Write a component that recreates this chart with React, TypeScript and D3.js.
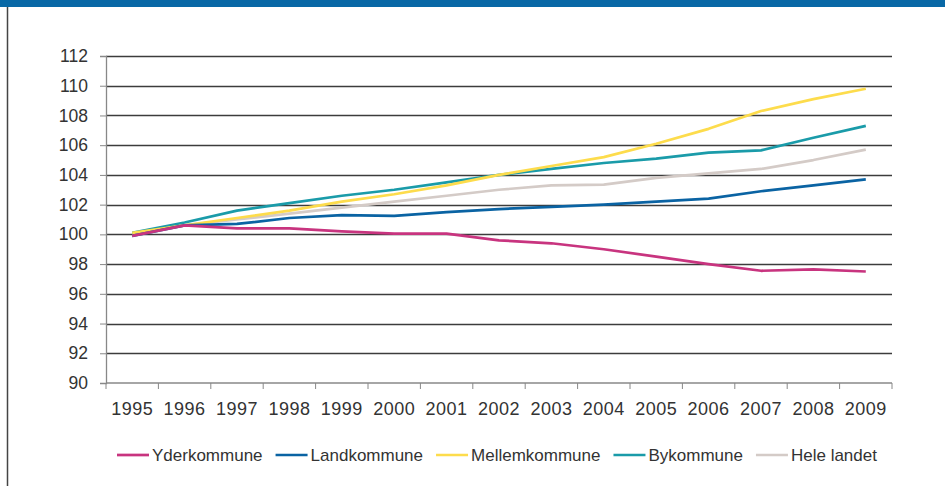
import React, { useEffect, useRef } from "react";
import * as d3 from "d3";

const years = ["1995", "1996", "1997", "1998", "1999", "2000", "2001", "2002", "2003", "2004", "2005", "2006", "2007", "2008", "2009"];

const yderkommune = [99.9, 100.6, 100.4, 100.4, 100.2, 100.05, 100.05, 99.6, 99.4, 99.0, 98.5, 98.0, 97.55, 97.65, 97.5];
const landkommune = [99.9, 100.6, 100.7, 101.1, 101.3, 101.25, 101.5, 101.7, 101.85, 102.0, 102.2, 102.4, 102.9, 103.3, 103.7];
const mellemkommune = [100.1, 100.6, 101.1, 101.6, 102.2, 102.7, 103.3, 104.0, 104.6, 105.2, 106.1, 107.1, 108.3, 109.1, 109.8];
const bykommune = [100.1, 100.8, 101.6, 102.1, 102.6, 103.0, 103.5, 104.0, 104.4, 104.8, 105.1, 105.5, 105.65, 106.5, 107.3];
const heleLandet = [100.0, 100.6, 101.0, 101.4, 101.8, 102.2, 102.6, 103.0, 103.3, 103.35, 103.8, 104.1, 104.4, 105.0, 105.7];

const seriesNames = ["Yderkommune", "Landkommune", "Mellemkommune", "Bykommune", "Hele landet"];
const seriesColors = ["#c8347f", "#0a63a3", "#fddc4c", "#1a9ba9", "#d4cbc7"];
const yTicks = [90, 92, 94, 96, 98, 100, 102, 104, 106, 108, 110, 112];

function App() {
    const ref = useRef<SVGSVGElement>(null);

    useEffect(() => {
        const width = 945;
        const height = 486;
        const left = 106;
        const right = 892;
        const top = 56;
        const bottom = 383;
        const font = "'Liberation Sans', Arial, sans-serif";
        const textColor = "#333";

        const svg = d3.select(ref.current);
        svg.selectAll("*").remove();

        // frame: blue band on top, rule on the left
        svg.append("rect").attr("x", 0).attr("y", 0).attr("width", width).attr("height", 7).attr("fill", "#0868a6");
        svg.append("line").attr("x1", 7.5).attr("x2", 7.5).attr("y1", 7).attr("y2", height)
            .attr("stroke", "#444").attr("stroke-width", 1.5);

        const x = d3.scaleBand().domain(years).range([left, right]).padding(0);
        const y = d3.scaleLinear().domain([90, 112]).range([bottom, top]);

        // gridlines
        svg.selectAll("line.grid")
            .data(yTicks.slice(1))
            .enter()
            .append("line")
            .attr("x1", left).attr("x2", right)
            .attr("y1", d => Math.round(y(d)) + 0.5).attr("y2", d => Math.round(y(d)) + 0.5)
            .attr("stroke", "#3c3c3c").attr("stroke-width", 1.3);

        // y axis
        const ya = svg.append("g").attr("transform", `translate(${left},0)`)
            .call(d3.axisLeft(y).tickValues(yTicks).tickSize(6).tickPadding(12));
        ya.select(".domain").attr("stroke", "#888").attr("stroke-width", 1.3);
        ya.selectAll(".tick line").attr("stroke", "#888");
        ya.selectAll("text").attr("font-family", font).attr("font-size", 17.5).attr("fill", textColor);

        // x axis with ticks on band edges
        const xa = svg.append("g").attr("transform", `translate(0,${bottom})`);
        xa.append("line").attr("x1", left).attr("x2", right).attr("stroke", "#888").attr("stroke-width", 1.3);
        const edges = years.map(d => x(d) as number).concat([right]);
        xa.selectAll("line.tk").data(edges).enter().append("line")
            .attr("x1", d => d).attr("x2", d => d).attr("y1", 0).attr("y2", 6)
            .attr("stroke", "#888");
        xa.selectAll("text").data(years).enter().append("text")
            .attr("x", d => (x(d) as number) + x.bandwidth() / 2)
            .attr("y", 32)
            .attr("text-anchor", "middle")
            .attr("font-family", font).attr("font-size", 18).attr("letter-spacing", 0.5).attr("fill", textColor)
            .text(d => d);

        const allSeries = [yderkommune, landkommune, mellemkommune, bykommune, heleLandet];
        const line = d3.line<number>()
            .x((d, i) => (x(years[i]) as number) + x.bandwidth() / 2)
            .y(d => y(d));

        // draw back to front so the pink line ends up on top
        [4, 3, 2, 1, 0].forEach(k => {
            svg.append("path")
                .attr("d", line(allSeries[k]))
                .attr("fill", "none")
                .attr("stroke", seriesColors[k])
                .attr("stroke-width", 2.7)
                .attr("stroke-linejoin", "round");
        });

        // legend
        const legend = svg.append("g").attr("transform", "translate(117,455)");
        let lx = 0;
        seriesNames.forEach((name, i) => {
            const g = legend.append("g").attr("transform", `translate(${lx},0)`);
            g.append("line").attr("x1", 0).attr("x2", 32).attr("y1", 0).attr("y2", 0)
                .attr("stroke", seriesColors[i]).attr("stroke-width", 2.7);
            const t = g.append("text").attr("x", 35).attr("y", 6)
                .attr("font-family", font).attr("font-size", 17).attr("fill", textColor)
                .text(name);
            const w = (t.node() as SVGTextElement).getComputedTextLength();
            lx += 35 + w + 13;
        });
    }, []);

    return (
        <svg ref={ref} width={945} height={486}
            style={{ position: "absolute", left: 0, top: 0, display: "block", background: "#fff" }} />
    );
}

export default App;
